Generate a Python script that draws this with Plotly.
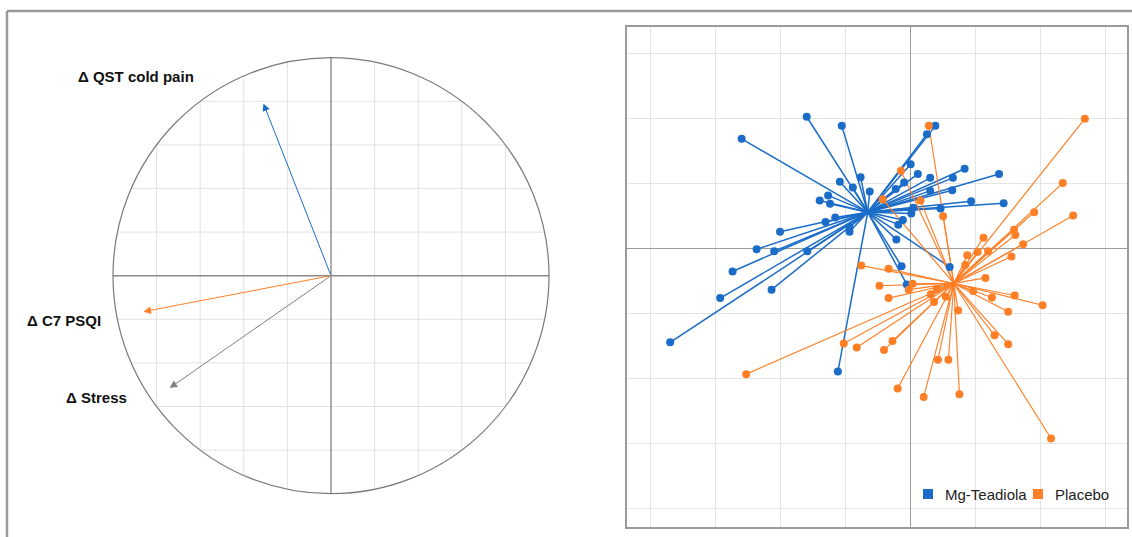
import numpy as np
import plotly.graph_objects as go

# ---- Correlation circle: variable loadings on the first two axes ----
var_names = ["\u0394 QST cold pain", "\u0394 C7 PSQI", "\u0394 Stress"]
load_x = [-0.31, -0.86, -0.74]
load_y = [0.79, -0.165, -0.515]
var_colors = ["#1a6cc8", "#ff7f27", "#7f7f7f"]

# ---- Individual scores, by treatment group ----
group_names = ["Mg-Teadiola", "Placebo"]
mg_x = [-1.59, -1.05, -2.59, 0.39, 0.26, 0.01, 0.84, 1.37, 0.12, 0.31, 0.66, -0.76,
        -1.08, -0.88, -0.09, -0.22, -0.62, 0.31, 0.65, -1.26, -1.39, -1.23, 0.94, 1.44,
        0.47, 0.05, 0.02, -1.15, -1.30, -0.11, -0.18, -0.93, -0.93, -2.00, -0.21, -2.36,
        -2.09, -1.58, -2.73, -0.13, 0.61, -2.92, -2.13, -0.05, -3.69, -1.11]
mg_y = [2.03, 1.89, 1.69, 1.89, 1.76, 1.30, 1.23, 1.15, 1.15, 1.09, 1.09, 1.10,
        1.03, 0.94, 1.02, 0.92, 0.88, 0.89, 0.90, 0.82, 0.74, 0.69, 0.73, 0.70,
        0.62, 0.63, 0.54, 0.48, 0.41, 0.44, 0.37, 0.33, 0.26, 0.26, 0.14, -0.01,
        -0.04, -0.04, -0.35, -0.27, -0.28, -0.76, -0.63, -0.55, -1.44, -1.89]
placebo_x = [0.29, 2.69, -0.14, -0.42, 0.16, 0.51, 2.35, 2.51, 1.91, 1.60, 1.62, 1.13,
             1.74, 0.88, 1.04, 1.20, 1.56, 0.85, -0.75, -0.33, 1.16, -0.47, 0.04, -0.02,
             0.41, 0.32, -0.33, 0.55, 0.97, 1.26, 1.61, 2.04, 0.37, 0.74, 1.51, 1.30,
             1.51, -0.27, -1.02, -0.82, -0.40, 0.43, 0.59, -2.52, -0.19, 0.21, 0.76, 2.17]
placebo_y = [1.89, 2.00, 1.20, 0.76, 0.74, 0.50, 1.01, 0.51, 0.56, 0.29, 0.21, 0.17,
             0.07, -0.10, -0.05, -0.04, -0.12, -0.25, -0.26, -0.31, -0.45, -0.57, -0.54, -0.63,
             -0.62, -0.70, -0.76, -0.74, -0.65, -0.75, -0.72, -0.87, -0.82, -0.95, -0.97, -1.33,
             -1.47, -1.42, -1.46, -1.52, -1.56, -1.71, -1.71, -1.93, -2.15, -2.28, -2.24, -2.92]
group_colors = ["#1a6cc8", "#ff7f27"]

W, H = 1132, 537
FONT = "Liberation Sans, Arial, sans-serif"

fig = go.Figure()

# ---- left panel: grid clipped to the unit circle ----
grid_vals = [-0.8, -0.6, -0.4, -0.2, 0.2, 0.4, 0.6, 0.8]
gx, gy = [], []
for v in grid_vals:
    h = float(np.sqrt(1 - v * v))
    gx += [v, v, None, -h, h, None]
    gy += [-h, h, None, v, v, None]
fig.add_trace(go.Scatter(x=gx, y=gy, mode="lines", xaxis="x", yaxis="y",
                         line=dict(color="#e2e2e2", width=1), hoverinfo="skip",
                         showlegend=False))
fig.add_trace(go.Scatter(x=[-1, 1, None, 0, 0], y=[0, 0, None, -1, 1], mode="lines",
                         xaxis="x", yaxis="y", line=dict(color="#8a8a8a", width=1.4),
                         hoverinfo="skip", showlegend=False))
fig.add_shape(type="circle", xref="x", yref="y", x0=-1, y0=-1, x1=1, y1=1,
              line=dict(color="#7a7a7a", width=1.2))

# loading arrows from the origin
for name, lx, ly, col in zip(var_names, load_x, load_y, var_colors):
    fig.add_annotation(x=lx, y=ly, ax=0, ay=0, xref="x", yref="y", axref="x", ayref="y",
                       text="", showarrow=True, arrowhead=2, arrowsize=1.5,
                       arrowwidth=1, arrowcolor=col)

# variable labels (placed beside each arrow tip, in axis units)
label_pos = {
    var_names[0]: (-0.893, 0.916),
    var_names[1]: (-1.226, -0.207),
    var_names[2]: (-1.077, -0.558),
}
for name in var_names:
    px, py = label_pos[name]
    fig.add_annotation(x=px, y=py, xref="x", yref="y", text="<b>%s</b>" % name,
                       showarrow=False, font=dict(family=FONT, size=15, color="#111"))

# ---- right panel: each individual joined to its group centre ----
groups = [(mg_x, mg_y), (placebo_x, placebo_y)]
line_widths = [1.5, 1.15]
for (xs, ys), col, lw in zip(groups, group_colors, line_widths):
    cx, cy = float(np.mean(xs)), float(np.mean(ys))
    sx, sy = [], []
    for x, y in zip(xs, ys):
        sx += [cx, x, None]
        sy += [cy, y, None]
    fig.add_trace(go.Scatter(x=sx, y=sy, mode="lines", xaxis="x2", yaxis="y2",
                             line=dict(color=col, width=lw), hoverinfo="skip",
                             showlegend=False))
for (xs, ys), col, name in zip(groups, group_colors, group_names):
    fig.add_trace(go.Scatter(x=xs, y=ys, mode="markers", xaxis="x2", yaxis="y2",
                             marker=dict(color=col, size=8, line=dict(width=0)),
                             name=name, showlegend=False))

# legend drawn as coloured squares with labels
legend_items = [(923, 943), (1033, 1053)]
for (sq_x, tx), col, name in zip(legend_items, group_colors, group_names):
    fig.add_shape(type="rect", xref="paper", yref="paper",
                  x0=sq_x / W, x1=(sq_x + 10) / W, y0=(H - 499) / H, y1=(H - 489) / H,
                  fillcolor=col, line=dict(width=0))
    fig.add_annotation(x=tx / W, y=(H - 494) / H, xref="paper", yref="paper",
                       xanchor="left", yanchor="middle", text=name, showarrow=False,
                       font=dict(family=FONT, size=15, color="#222"))

# outer frame (left and top edges)
fig.add_shape(type="line", xref="paper", yref="paper", x0=7 / W, x1=7 / W,
              y0=0, y1=(H - 11) / H, line=dict(color="#9a9a9a", width=2.5))
fig.add_shape(type="line", xref="paper", yref="paper", x0=7 / W, x1=1,
              y0=(H - 11) / H, y1=(H - 11) / H, line=dict(color="#9a9a9a", width=2.5))

hidden = dict(showgrid=False, zeroline=False, showticklabels=False, ticks="",
              showline=False, fixedrange=True)
fig.update_layout(
    width=W, height=H, autosize=False,
    margin=dict(l=0, r=0, t=0, b=0),
    paper_bgcolor="white", plot_bgcolor="white",
    showlegend=False,
    xaxis=dict(domain=[20 / W, 600 / W], range=[-1.4266, 1.2339], **hidden),
    yaxis=dict(domain=[(H - 520) / H, (H - 20) / H], range=[-1.1206, 1.1729], **hidden),
    xaxis2=dict(domain=[627 / W, 1127 / W], range=[-4.354, 3.338], anchor="y2",
                tick0=0, dtick=1, showgrid=True, gridcolor="#e4e4e4", gridwidth=1,
                zeroline=True, zerolinecolor="#9a9a9a", zerolinewidth=1.3,
                showticklabels=False, ticks="", showline=True, mirror=True,
                linecolor="#9a9a9a", linewidth=2),
    yaxis2=dict(domain=[(H - 527) / H, (H - 27) / H], range=[-4.282, 3.411], anchor="x2",
                tick0=0, dtick=1, showgrid=True, gridcolor="#e4e4e4", gridwidth=1,
                zeroline=True, zerolinecolor="#9a9a9a", zerolinewidth=1.3,
                showticklabels=False, ticks="", showline=True, mirror=True,
                linecolor="#9a9a9a", linewidth=2),
)

fig.write_html("out.html")
